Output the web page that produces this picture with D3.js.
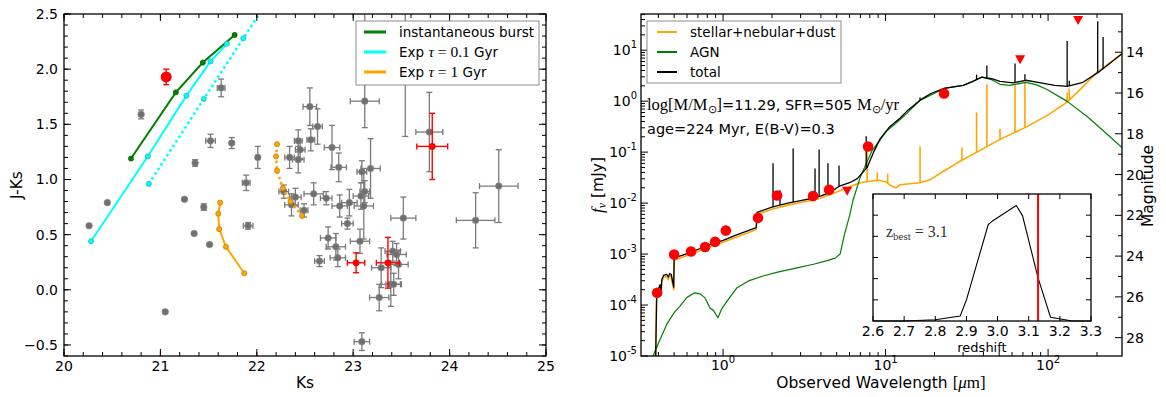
<!DOCTYPE html>
<html>
<head>
<meta charset="utf-8">
<script src="https://cdn.jsdelivr.net/npm/d3@7"></script>
<style>
  body { margin: 0; background: #fff; }
  svg { font-family: "DejaVu Sans", sans-serif; }
</style>
</head>
<body>
<svg id="chart" width="1166" height="397"></svg>
<script>
// ---------- left panel: colour-magnitude data ----------
const burstKs = [20.695, 21.16, 21.44, 21.77];
const burstJK = [1.19, 1.79, 2.06, 2.31];
const tau01Ks = [20.28, 20.87, 21.27, 21.52, 21.69];
const tau01JK = [0.44, 1.21, 1.76, 2.07, 2.23];
const tau01dotKs = [20.88, 21.45, 21.86, 22.1];
const tau01dotJK = [0.96, 1.73, 2.28, 2.6];
const tau1Ks = [21.62, 21.60, 21.61, 21.68, 21.87];
const tau1JK = [0.79, 0.69, 0.55, 0.39, 0.15];
const tau1dotKs = [22.21, 22.20, 22.21, 22.27, 22.35, 22.47];
const tau1dotJK = [1.32, 1.21, 1.08, 0.92, 0.80, 0.67];

const grayKs = [20.26, 20.45, 20.80, 21.05, 21.25, 21.35, 21.36, 21.45, 21.51, 21.52, 21.63, 21.74, 21.89, 21.91, 22.01,
  22.34, 22.43, 22.43, 22.45, 22.56, 22.55, 22.63, 22.78, 22.85, 23.09, 23.18, 23.12, 23.54, 23.79, 24.51, 24.27,
  22.28, 22.40, 22.36, 22.49, 22.59, 22.72, 22.86, 22.96, 23.08, 23.12, 23.11, 22.94, 23.52, 22.74, 22.82, 23.07,
  22.84, 22.65, 23.41, 23.45, 23.47, 23.29, 23.39, 23.42, 23.27, 23.09];
const grayJK = [0.58, 0.79, 1.59, -0.20, 0.82, 0.51, 1.15, 0.75, 0.41, 1.35, 1.83, 1.33, 0.97, 0.58, 1.20,
  1.20, 1.18, 1.35, 1.27, 1.36, 1.66, 1.48, 1.29, 1.11, 1.07, 1.10, 1.71, 2.70, 1.43, 0.94, 0.63,
  0.89, 0.84, 0.77, 0.72, 0.87, 0.83, 0.76, 0.79, 0.85, 0.89, 0.76, 0.60, 0.65, 0.47, 0.39, 0.44,
  0.29, 0.26, 0.35, 0.32, 0.23, 0.20, 0.05, 0.05, -0.07, -0.47];
const grayKsErr = [0, 0, 0, 0, 0, 0, 0, 0, 0, 0.05, 0.04, 0, 0.04, 0.05, 0,
  0.05, 0.06, 0.04, 0.05, 0.04, 0.07, 0.05, 0.08, 0.08, 0.05, 0.10, 0.15, 0, 0.14, 0.20, 0.20,
  0.05, 0.06, 0.07, 0.04, 0.10, 0.06, 0.08, 0.08, 0.08, 0.05, 0.10, 0.06, 0.13, 0.08, 0.10, 0.10,
  0.08, 0.05, 0.08, 0.10, 0.10, 0.10, 0.10, 0.08, 0.10, 0.08];
const grayJKErrLo = [0, 0, 0.04, 0, 0.01, 0, 0.03, 0.03, 0, 0.06, 0.08, 0.05, 0.07, 0.03, 0.10,
  0.10, 0.12, 0.10, 0.08, 0.10, 0.17, 0.16, 0.20, 0.13, 0.10, 0.27, 0.24, 1.31, 0.36, 0.33, 0.25,
  0.06, 0.08, 0.10, 0.06, 0.10, 0.06, 0.10, 0.12, 0.12, 0.10, 0.30, 0.05, 0.19, 0.10, 0.12, 0.11,
  0.08, 0.05, 0.09, 0.10, 0.13, 0.18, 0.20, 0.10, 0.12, 0.08];
const grayJKErrHi = [0, 0, 0.04, 0, 0.01, 0, 0.03, 0.03, 0, 0.06, 0.08, 0.05, 0.07, 0.03, 0.10,
  0.10, 0.12, 0.10, 0.08, 0.10, 0.17, 0.16, 0.20, 0.13, 0.10, 0.27, 0.90, 1.31, 0.36, 0.33, 0.25,
  0.06, 0.08, 0.10, 0.06, 0.10, 0.06, 0.10, 0.12, 0.12, 0.10, 0.30, 0.05, 0.19, 0.10, 0.12, 0.11,
  0.08, 0.05, 0.09, 0.10, 0.13, 0.18, 0.20, 0.10, 0.12, 0.08];

const redKs = [23.82, 23.03, 23.36];
const redJK = [1.30, 0.245, 0.245];
const redKsErr = [0.16, 0.09, 0.12];
const redJKErr = [0.30, 0.09, 0.23];
const bigRedKs = 21.06, bigRedJK = 1.93, bigRedErr = 0.07;

// ---------- right panel: SED data (wavelength in micron, log10 flux in mJy) ----------
const totWave = [0.385, 0.39, 0.40, 0.41, 0.415, 0.42, 0.43, 0.45, 0.46, 0.47, 0.48, 0.49, 0.497, 0.50, 0.53, 0.6, 0.7, 0.8,
  0.9, 1.0, 1.2, 1.4, 1.6, 1.62, 2.0, 2.5, 3.0, 3.5, 4.0, 4.5, 5.25, 6.0, 6.7, 7.7, 8.5, 9.25, 10.6, 12.3, 13.5, 16.3,
  19, 22.9, 30, 34, 39, 45, 50.6, 60.9, 73, 90, 110, 131, 164, 209, 285];
const totLogF = [-5.0, -3.85, -3.68, -3.6, -3.75, -3.5, -3.42, -3.4, -3.45, -3.38, -3.4, -3.55, -3.65, -3.08, -3.05, -2.99,
  -2.91, -2.83, -2.78, -2.73, -2.63, -2.55, -2.48, -2.18, -2.08, -2.0, -1.95, -1.91, -1.86, -1.8, -1.66, -1.6, -1.52,
  -1.3, -0.98, -0.74, -0.5, -0.33, -0.2, 0.02, 0.15, 0.25, 0.31, 0.38, 0.47, 0.44, 0.39, 0.36, 0.41, 0.36, 0.31, 0.29,
  0.37, 0.59, 0.93];
const starWave = [0.385, 0.39, 0.40, 0.41, 0.415, 0.42, 0.43, 0.45, 0.46, 0.47, 0.48, 0.49, 0.497, 0.50, 0.53, 0.6, 0.7,
  0.8, 0.9, 1.0, 1.2, 1.4, 1.6, 1.62, 2.0, 2.5, 3.0, 3.5, 4.0, 5.0, 6.0, 7.0, 8.0, 9.0, 10.0, 10.8, 11.6, 12.3, 14, 16.3,
  18.8, 22.6, 28, 36.5, 50.6, 74, 100, 131, 160, 199, 240, 285];
const starLogF = [-5.0, -3.9, -3.72, -3.64, -3.8, -3.54, -3.46, -3.44, -3.5, -3.42, -3.45, -3.6, -3.7, -3.12, -3.09, -3.03,
  -2.95, -2.87, -2.82, -2.77, -2.67, -2.59, -2.52, -2.22, -2.12, -2.04, -1.99, -1.95, -1.9, -1.78, -1.68, -1.6, -1.57,
  -1.55, -1.58, -1.66, -1.7, -1.64, -1.62, -1.6, -1.54, -1.38, -1.2, -1.0, -0.75, -0.5, -0.27, -0.02, 0.25, 0.56, 0.75, 0.93];
const agnWave = [0.36, 0.40, 0.45, 0.50, 0.54, 0.60, 0.67, 0.72, 0.775, 0.83, 0.87, 0.93, 0.98, 1.06, 1.22, 1.45, 1.76,
  2.2, 2.85, 3.6, 4.37, 4.9, 5.25, 5.6, 6.0, 6.3, 6.97, 8.26, 10.2, 12.3, 13.5, 16.3, 22.9, 30, 35, 39, 45, 50.6, 58,
  65, 73, 85, 98.6, 131, 174, 231, 285];
const agnLogF = [-5.1, -4.75, -4.38, -4.15, -4.03, -3.85, -3.76, -3.78, -3.86, -4.06, -4.1, -4.25, -4.08, -3.92, -3.66,
  -3.52, -3.43, -3.35, -3.27, -3.2, -3.13, -3.08, -3.0, -2.6, -2.25, -1.95, -1.5, -0.97, -0.58, -0.36, -0.24, 0.016,
  0.25, 0.31, 0.4, 0.47, 0.42, 0.33, 0.31, 0.34, 0.37, 0.32, 0.23, -0.004, -0.3, -0.65, -0.91];

// emission lines: wavelength and peak log flux
const totLineWave = [2.03, 2.24, 2.70, 3.68, 3.9, 4.42, 5.17, 7.6, 16.3, 36.3, 42, 62.6, 72, 131, 135, 202, 218];
const totLineTop = [-1.22, -1.75, -0.93, -1.32, -0.95, -1.22, -1.26, -0.69, 0.07, 0.52, 0.70, 0.74, 0.53, 1.18, 0.40, 1.57, 1.26];
const starLineWave = [7.7, 8.9, 10.3, 16.3, 27.7, 29.5, 36.3, 42, 50.6, 62.6, 72, 131, 135];
const starLineTop = [-0.87, -1.4, -1.42, -0.89, -1.2, -0.91, -0.22, 0.33, -0.54, 0.33, 0.37, 0.17, 0.25];

const photWave = [0.393, 0.50, 0.635, 0.775, 0.893, 1.04, 1.64, 2.15, 3.58, 4.49, 7.8, 22.9];
const photLogF = [-3.76, -3.01, -2.95, -2.86, -2.76, -2.54, -2.29, -1.85, -1.86, -1.74, -0.89, 0.15];
const limWave = [5.8, 67.3, 153];
const limLogF = [-1.76, 0.82, 1.59];

// inset: redshift probability
const zGrid = [2.6, 2.7, 2.8, 2.88, 2.90, 2.97, 2.985, 3.06, 3.08, 3.13, 3.17, 3.24, 3.3];
const zProb = [0, 0, 0.06, 0.24, 1.0, 4.56, 4.74, 5.46, 4.98, 2.04, 0.18, 0, 0];
const zBest = 3.13;

// ---------- drawing ----------
const svg = d3.select("#chart");

function drawTicks(g, box, side, scale, vals, len) {
  const horiz = side === "bottom" || side === "top";
  g.append("g").selectAll("line").data(vals).join("line")
    .attr("x1", d => horiz ? scale(d) : (side === "left" ? box.x0 : box.x1))
    .attr("x2", d => horiz ? scale(d) : (side === "left" ? box.x0 + len : box.x1 - len))
    .attr("y1", d => horiz ? (side === "bottom" ? box.y1 : box.y0) : scale(d))
    .attr("y2", d => horiz ? (side === "bottom" ? box.y1 - len : box.y0 + len) : scale(d))
    .attr("stroke", "#000").attr("stroke-width", 1);
}
function frame(g, box) {
  g.append("rect").attr("x", box.x0).attr("y", box.y0)
    .attr("width", box.x1 - box.x0).attr("height", box.y1 - box.y0)
    .attr("fill", "none").attr("stroke", "#000").attr("stroke-width", 1.3);
}

// ===== left panel =====
const L = {x0: 64, x1: 546, y0: 14, y1: 356};
const xL = d3.scaleLinear().domain([20, 25]).range([L.x0, L.x1]);
const yL = d3.scaleLinear().domain([-0.6, 2.5]).range([L.y1, L.y0]);
const gL = svg.append("g");
svg.append("clipPath").attr("id", "clipL").append("rect")
  .attr("x", L.x0).attr("y", L.y0).attr("width", L.x1 - L.x0).attr("height", L.y1 - L.y0);
const pL = gL.append("g").attr("clip-path", "url(#clipL)");

const lineL = d3.line().x(d => xL(d[0])).y(d => yL(d[1]));
const grey = "#707070";

// gray errorbars + markers
const grayPts = d3.range(grayKs.length).map(i => ({
  x: grayKs[i], y: grayJK[i], xe: grayKsErr[i], lo: grayJKErrLo[i], hi: grayJKErrHi[i]}));
const eb = pL.append("g").attr("stroke", "#7a7a7a").attr("stroke-width", 1.3);
grayPts.forEach(p => {
  if (p.xe > 0) {
    eb.append("line").attr("x1", xL(p.x - p.xe)).attr("x2", xL(p.x + p.xe)).attr("y1", yL(p.y)).attr("y2", yL(p.y));
    [p.x - p.xe, p.x + p.xe].forEach(v => eb.append("line").attr("x1", xL(v)).attr("x2", xL(v))
      .attr("y1", yL(p.y) - 3).attr("y2", yL(p.y) + 3));
  }
  if (p.lo > 0) {
    eb.append("line").attr("x1", xL(p.x)).attr("x2", xL(p.x)).attr("y1", yL(p.y - p.lo)).attr("y2", yL(p.y + p.hi));
    [p.y - p.lo, p.y + p.hi].forEach(v => eb.append("line").attr("y1", yL(v)).attr("y2", yL(v))
      .attr("x1", xL(p.x) - 3).attr("x2", xL(p.x) + 3));
  }
});
pL.append("g").selectAll("circle").data(grayPts).join("circle")
  .attr("cx", d => xL(d.x)).attr("cy", d => yL(d.y)).attr("r", 3.3)
  .attr("fill", grey).attr("stroke", "#8a8a8a").attr("stroke-width", 0.6);

// model tracks
function track(ks, jk, color, dashed, mk) {
  const pts = d3.zip(ks, jk);
  pL.append("path").attr("d", lineL(pts)).attr("fill", "none").attr("stroke", color)
    .attr("stroke-width", dashed ? 2.6 : 2).attr("stroke-dasharray", dashed ? "2.5,3" : null);
  pL.append("g").selectAll("circle").data(pts).join("circle")
    .attr("cx", d => xL(d[0])).attr("cy", d => yL(d[1])).attr("r", 2.6)
    .attr("fill", color).attr("stroke", mk).attr("stroke-width", 0.6);
}
track(tau01dotKs, tau01dotJK, "#00ffff", true, "#2a9f9f");
track(tau1dotKs, tau1dotJK, "#ffa500", true, "#b07000");
track(burstKs, burstJK, "#008000", false, "#005000");
track(tau01Ks, tau01JK, "#00ffff", false, "#2a9f9f");
track(tau1Ks, tau1JK, "#ffa500", false, "#b07000");

// red points
const reb = pL.append("g").attr("stroke", "#ff0000").attr("stroke-width", 1.4);
redKs.forEach((k, i) => {
  const x = k, y = redJK[i], xe = redKsErr[i], ye = redJKErr[i];
  reb.append("line").attr("x1", xL(x - xe)).attr("x2", xL(x + xe)).attr("y1", yL(y)).attr("y2", yL(y));
  reb.append("line").attr("x1", xL(x)).attr("x2", xL(x)).attr("y1", yL(y - ye)).attr("y2", yL(y + ye));
  [x - xe, x + xe].forEach(v => reb.append("line").attr("x1", xL(v)).attr("x2", xL(v)).attr("y1", yL(y) - 3).attr("y2", yL(y) + 3));
  [y - ye, y + ye].forEach(v => reb.append("line").attr("y1", yL(v)).attr("y2", yL(v)).attr("x1", xL(x) - 3).attr("x2", xL(x) + 3));
});
pL.append("g").selectAll("circle").data(d3.zip(redKs, redJK)).join("circle")
  .attr("cx", d => xL(d[0])).attr("cy", d => yL(d[1])).attr("r", 3.4).attr("fill", "#ff0000");
reb.append("line").attr("x1", xL(bigRedKs)).attr("x2", xL(bigRedKs))
  .attr("y1", yL(bigRedJK - bigRedErr)).attr("y2", yL(bigRedJK + bigRedErr));
[bigRedJK - bigRedErr, bigRedJK + bigRedErr].forEach(v => reb.append("line").attr("y1", yL(v)).attr("y2", yL(v))
  .attr("x1", xL(bigRedKs) - 3).attr("x2", xL(bigRedKs) + 3));
pL.append("circle").attr("cx", xL(bigRedKs)).attr("cy", yL(bigRedJK)).attr("r", 5.5).attr("fill", "#ff0000");

// axes left
frame(gL, L);
const xMajL = d3.range(20, 25.01, 1), xMinL = d3.range(20, 25.01, 0.2);
const yMajL = [-0.5, 0, 0.5, 1, 1.5, 2, 2.5], yMinL = d3.range(-0.6, 2.501, 0.1).map(v => +v.toFixed(2));
["bottom", "top"].forEach(s => { drawTicks(gL, L, s, xL, xMajL, 7); drawTicks(gL, L, s, xL, xMinL, 4); });
["left", "right"].forEach(s => { drawTicks(gL, L, s, yL, yMajL, 7); drawTicks(gL, L, s, yL, yMinL, 4); });
gL.append("g").selectAll("text").data(xMajL).join("text")
  .attr("x", d => xL(d)).attr("y", 371).attr("text-anchor", "middle").attr("font-size", 14).text(d => d);
gL.append("g").selectAll("text").data(yMajL).join("text")
  .attr("x", 58).attr("y", d => yL(d) + 5).attr("text-anchor", "end").attr("font-size", 14)
  .text(d => (d < 0 ? "\u2212" : "") + Math.abs(d).toFixed(1));
gL.append("text").attr("x", 305).attr("y", 388).attr("text-anchor", "middle").attr("font-size", 15.5).text("Ks");
gL.append("text").attr("transform", "translate(22,185) rotate(-90)").attr("text-anchor", "middle")
  .attr("font-size", 15.5).text("J-Ks");

// legend left
const legL = gL.append("g");
legL.append("rect").attr("x", 356).attr("y", 21).attr("width", 183).attr("height", 64)
  .attr("fill", "#fff").attr("stroke", "#8c8c8c").attr("stroke-width", 1);
const legLItems = [
  {c: "#008000", parts: [["instantaneous burst", "s"]]},
  {c: "#00ffff", parts: [["Exp ", "s"], ["\u03c4", "i"], [" = 0.1", "m"], [" Gyr", "s"]]},
  {c: "#ffa500", parts: [["Exp ", "s"], ["\u03c4", "i"], [" = 1", "m"], [" Gyr", "s"]]}
];
legLItems.forEach((it, i) => {
  const y = 32 + i * 20;
  legL.append("line").attr("x1", 364).attr("x2", 386).attr("y1", y).attr("y2", y)
    .attr("stroke", it.c).attr("stroke-width", 3);
  const t = legL.append("text").attr("x", 399).attr("y", y + 5).attr("font-size", 13.5);
  it.parts.forEach(p => t.append("tspan").text(p[0])
    .attr("font-family", p[1] === "s" ? "DejaVu Sans" : "Liberation Serif")
    .attr("font-style", p[1] === "i" ? "italic" : null)
    .attr("font-size", p[1] === "s" ? 13.5 : 15.5)
    .style("white-space", "pre"));
});

// ===== right panel =====
const R = {x0: 641, x1: 1122, y0: 14, y1: 356};
const xS = d3.scaleLog().domain([0.3126, 285]).range([R.x0, R.x1]);
const yS = d3.scaleLog().domain([1e-5, 51.3]).range([R.y1, R.y0]);
// AB magnitude for flux in mJy
const yM = d3.scaleLinear().domain([16.4 - 2.5 * Math.log10(1e-5), 16.4 - 2.5 * Math.log10(51.3)]).range([R.y1, R.y0]);
const gR = svg.append("g");
svg.append("clipPath").attr("id", "clipR").append("rect")
  .attr("x", R.x0).attr("y", R.y0).attr("width", R.x1 - R.x0).attr("height", R.y1 - R.y0);
const pR = gR.append("g").attr("clip-path", "url(#clipR)");
const lineS = d3.line().x(d => xS(d[0])).y(d => yS(Math.pow(10, d[1])));

function interpLog(wave, logf, w) {
  const lw = Math.log10(w);
  for (let i = 0; i < wave.length - 1; i++) {
    const a = Math.log10(wave[i]), b = Math.log10(wave[i + 1]);
    if (lw >= a && lw <= b) return logf[i] + (logf[i + 1] - logf[i]) * (lw - a) / (b - a);
  }
  return logf[logf.length - 1];
}
function sedLine(wave, logf, lw, lt, color, width) {
  pR.append("path").attr("d", lineS(d3.zip(wave, logf))).attr("fill", "none")
    .attr("stroke", color).attr("stroke-width", width).attr("stroke-linejoin", "round");
  pR.append("g").selectAll("line").data(d3.zip(lw, lt)).join("line")
    .attr("x1", d => xS(d[0])).attr("x2", d => xS(d[0]))
    .attr("y1", d => yS(Math.pow(10, interpLog(wave, logf, d[0]))))
    .attr("y2", d => yS(Math.pow(10, d[1])))
    .attr("stroke", color).attr("stroke-width", width);
}
sedLine(starWave, starLogF, starLineWave, starLineTop, "#ffa500", 1.6);
sedLine(agnWave, agnLogF, [], [], "#008000", 1.2);
sedLine(totWave, totLogF, totLineWave, totLineTop, "#000", 1.3);

pR.append("g").selectAll("circle").data(d3.zip(photWave, photLogF)).join("circle")
  .attr("cx", d => xS(d[0])).attr("cy", d => yS(Math.pow(10, d[1]))).attr("r", 5.3).attr("fill", "#ff0000");
pR.append("g").selectAll("path").data(d3.zip(limWave, limLogF)).join("path")
  .attr("transform", d => `translate(${xS(d[0])},${yS(Math.pow(10, d[1]))})`)
  .attr("d", "M-5,-4L5,-4L0,5Z").attr("fill", "#ff0000");

// axes right
frame(gR, R);
const xMajS = [1, 10, 100];
const xMinS = [0.4, 0.5, 0.6, 0.7, 0.8, 0.9, 2, 3, 4, 5, 6, 7, 8, 9, 20, 30, 40, 50, 60, 70, 80, 90, 200];
const yMajS = [1e-5, 1e-4, 1e-3, 1e-2, 1e-1, 1, 10];
const yMinS = [];
yMajS.forEach(d => d3.range(2, 10).forEach(m => { if (d * m < 51.3) yMinS.push(d * m); }));
["bottom", "top"].forEach(s => { drawTicks(gR, R, s, xS, xMajS, 7); drawTicks(gR, R, s, xS, xMinS, 4); });
drawTicks(gR, R, "left", yS, yMajS, 7);
drawTicks(gR, R, "left", yS, yMinS, 4);
const magTicks = [14, 16, 18, 20, 22, 24, 26, 28];
drawTicks(gR, R, "right", yM, magTicks, 7);
drawTicks(gR, R, "right", yM, d3.range(13, 29, 2), 4);

gR.append("g").selectAll("text").data(xMajS).join("text")
  .attr("x", d => xS(d)).attr("y", 370).attr("text-anchor", "middle").attr("font-size", 14)
  .each(function(d) {
    const t = d3.select(this);
    t.append("tspan").text("10");
    t.append("tspan").attr("dy", -7).attr("font-size", 10).text(Math.round(Math.log10(d)));
  });
gR.append("g").selectAll("text").data(yMajS).join("text")
  .attr("x", 637).attr("y", d => yS(d) + 5).attr("text-anchor", "end").attr("font-size", 14)
  .each(function(d) {
    const t = d3.select(this);
    t.append("tspan").text("10");
    t.append("tspan").attr("dy", -7).attr("font-size", 10).text(Math.round(Math.log10(d)));
  });
gR.append("g").selectAll("text").data(magTicks).join("text")
  .attr("x", 1126).attr("y", d => yM(d) + 5).attr("font-size", 14).text(d => d);

const xl = gR.append("text").attr("x", 881).attr("y", 388).attr("text-anchor", "middle").attr("font-size", 15.5);
xl.append("tspan").text("Observed Wavelength ");
xl.append("tspan").attr("font-family", "Liberation Serif").attr("font-size", 17).text("[");
xl.append("tspan").attr("font-family", "Liberation Serif").attr("font-style", "italic").attr("font-size", 17).text("\u03bc");
xl.append("tspan").attr("font-family", "Liberation Serif").attr("font-size", 17).text("m]");
const yl = gR.append("text").attr("transform", "translate(603,185) rotate(-90)").attr("text-anchor", "middle").attr("font-size", 15.5);
yl.append("tspan").attr("font-family", "Liberation Serif").attr("font-style", "italic").attr("font-size", 17).text("f");
yl.append("tspan").attr("font-family", "Liberation Serif").attr("font-style", "italic").attr("font-size", 12).attr("dy", 3).text("\u03bd");
yl.append("tspan").attr("dy", -3).text(" [mJy]");
gR.append("text").attr("transform", "translate(1153,186) rotate(-90)").attr("text-anchor", "middle")
  .attr("font-size", 15.5).text("Magnitude");

// legend right
const legR = gR.append("g");
legR.append("rect").attr("x", 647).attr("y", 21).attr("width", 194).attr("height", 62)
  .attr("fill", "#fff").attr("stroke", "#8c8c8c").attr("stroke-width", 1);
[["stellar+nebular+dust", "#ffa500"], ["AGN", "#008000"], ["total", "#000"]].forEach((it, i) => {
  const y = 32 + i * 20;
  legR.append("line").attr("x1", 657).attr("x2", 677).attr("y1", y).attr("y2", y)
    .attr("stroke", it[1]).attr("stroke-width", 2);
  legR.append("text").attr("x", 690).attr("y", y + 5).attr("font-size", 13.5).text(it[0]);
});

// annotation
const an1 = gR.append("text").attr("x", 647).attr("y", 110).attr("font-size", 14.5).style("white-space", "pre");
an1.append("tspan").attr("font-family", "Liberation Serif").attr("font-size", 16.5).text("log[M/M");
an1.append("tspan").attr("font-family", "Liberation Serif").attr("font-size", 11).attr("dy", 3).text("\u2299");
an1.append("tspan").attr("font-family", "Liberation Serif").attr("font-size", 16.5).attr("dy", -3).text("]");
an1.append("tspan").text("=11.29, SFR=505 ");
an1.append("tspan").attr("font-family", "Liberation Serif").attr("font-size", 16.5).text("M");
an1.append("tspan").attr("font-family", "Liberation Serif").attr("font-size", 11).attr("dy", 3).text("\u2299");
an1.append("tspan").attr("font-family", "Liberation Serif").attr("font-size", 16.5).attr("dy", -3).text("/yr");
gR.append("text").attr("x", 647).attr("y", 134).attr("font-size", 14.5).text("age=224 Myr, E(B-V)=0.3");

// ===== inset =====
const I = {x0: 873, x1: 1091, y0: 194, y1: 321};
const xI = d3.scaleLinear().domain([2.6, 3.3]).range([I.x0, I.x1]);
const yI = d3.scaleLinear().domain([0, 6]).range([I.y1, I.y0]);
const gI = svg.append("g");
gI.append("rect").attr("x", I.x0).attr("y", I.y0).attr("width", I.x1 - I.x0).attr("height", I.y1 - I.y0)
  .attr("fill", "#fff");
gI.append("path").attr("d", d3.line().x(d => xI(d[0])).y(d => yI(d[1]))(d3.zip(zGrid, zProb)))
  .attr("fill", "none").attr("stroke", "#000").attr("stroke-width", 1.1);
gI.append("line").attr("x1", xI(zBest)).attr("x2", xI(zBest)).attr("y1", I.y0).attr("y2", I.y1)
  .attr("stroke", "#ff0000").attr("stroke-width", 2);
frame(gI, I);
const zTicks = d3.range(2.6, 3.301, 0.1).map(v => +v.toFixed(1));
["bottom", "top"].forEach(s => drawTicks(gI, I, s, xI, zTicks, 5));
["left", "right"].forEach(s => drawTicks(gI, I, s, yI, [1, 2, 3, 4, 5], 5));
gI.append("g").selectAll("text").data(zTicks).join("text")
  .attr("x", d => xI(d)).attr("y", 336).attr("text-anchor", "middle").attr("font-size", 14).text(d => d.toFixed(1));
gI.append("text").attr("x", 982).attr("y", 352).attr("text-anchor", "middle").attr("font-size", 13).text("redshift");
const zt = gI.append("text").attr("x", 886).attr("y", 237).attr("font-family", "Liberation Serif")
  .attr("font-size", 16).attr("fill", "#333").style("white-space", "pre");
zt.append("tspan").text("z");
zt.append("tspan").attr("font-size", 11).attr("dy", 3).text("best");
zt.append("tspan").attr("dy", -3).text(" = 3.1");
</script>
</body>
</html>
